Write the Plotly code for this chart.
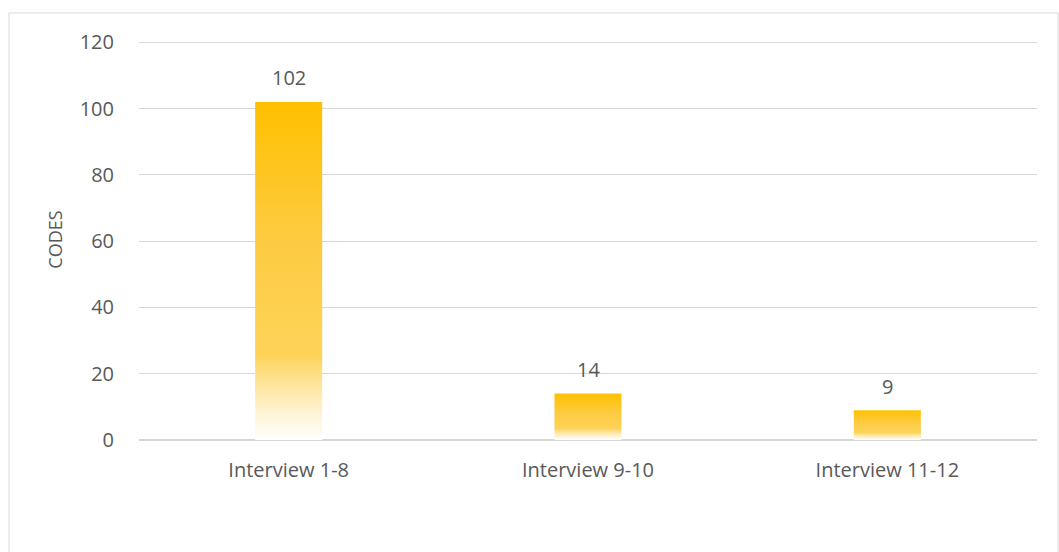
import plotly.graph_objects as go

categories = ["Interview 1-8", "Interview 9-10", "Interview 11-12"]
codes = [102, 14, 9]
y_ticks = [0, 20, 40, 60, 80, 100, 120]

BAR_W = 0.224
GOLD_SCALE = [
    [0.0, "#FFFFFF"],
    [0.06, "#FFF6E0"],
    [0.16, "#FEE6A0"],
    [0.25, "#FDD35A"],
    [0.6, "#FDCB40"],
    [1.0, "#FFC000"],
]
TXT = "#595959"
FONT = "Open Sans"

fig = go.Figure()
for i, v in enumerate(codes):
    x0, x1 = i - BAR_W / 2, i + BAR_W / 2
    fig.add_trace(go.Scatter(
        x=[x0, x1, x1, x0, x0], y=[0, 0, v, v, 0],
        mode="lines", fill="toself",
        line=dict(width=0, color="rgba(0,0,0,0)"),
        fillgradient=dict(type="vertical", colorscale=GOLD_SCALE, start=0, stop=v),
        showlegend=False, hoverinfo="skip",
    ))
    fig.add_annotation(x=i, y=v, text=str(v), showarrow=False, yanchor="middle",
                       yshift=24, font=dict(family=FONT, size=20, color=TXT))

fig.add_shape(type="rect", xref="paper", yref="paper",
              x0=-0.1448, x1=1.0234, y0=-0.32, y1=1.065,
              line=dict(color="#D9D9D9", width=1), layer="below")

fig.update_layout(
    width=1059, height=552,
    margin=dict(l=139, r=22, t=39, b=112),
    paper_bgcolor="white", plot_bgcolor="white",
    font=dict(family=FONT, color=TXT, size=20),
    xaxis=dict(range=[-0.5, 2.5], tickvals=[0, 1, 2], ticktext=categories,
               showgrid=False, zeroline=False, showline=False,
               ticks="outside", ticklen=12, tickcolor="rgba(0,0,0,0)",
               tickfont=dict(family=FONT, size=20, color=TXT), fixedrange=True),
    yaxis=dict(range=[0, 121], tickvals=y_ticks, showgrid=True, gridcolor="#D6D6D6",
               gridwidth=1.3, zeroline=True, zerolinecolor="#D6D6D6", zerolinewidth=1.6,
               showline=False, ticks="outside", ticklen=20, tickcolor="rgba(0,0,0,0)",
               tickfont=dict(family=FONT, size=20, color=TXT),
               title=dict(text="CODES", font=dict(family=FONT, size=18, color=TXT), standoff=12)),
)

fig.write_html("out.html")
